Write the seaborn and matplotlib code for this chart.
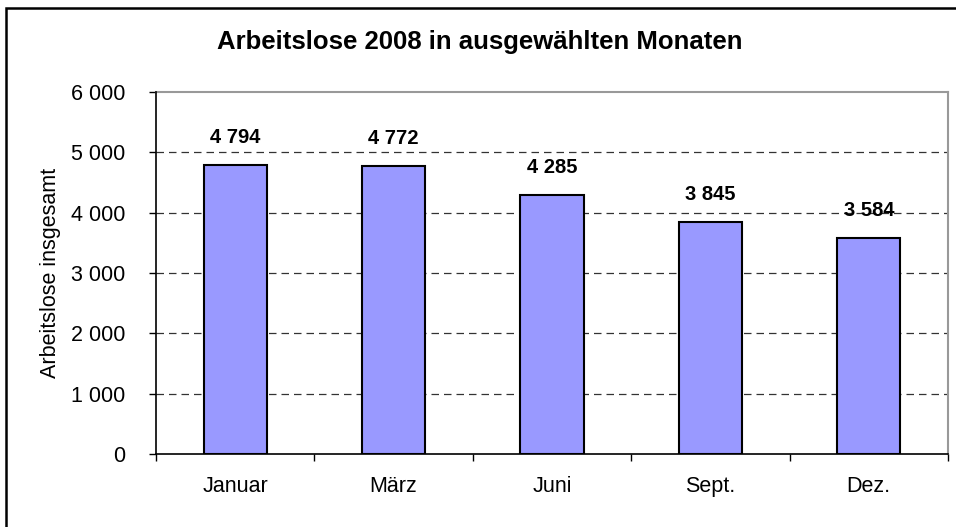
import matplotlib
matplotlib.use("Agg")
import matplotlib.pyplot as plt
import seaborn as sns
import pandas as pd
from matplotlib.patches import Rectangle
from matplotlib.ticker import FuncFormatter, FixedLocator

months = ["Januar", "März", "Juni", "Sept.", "Dez."]
values = [4794, 4772, 4285, 3845, 3584]
y_ticks = [0, 1000, 2000, 3000, 4000, 5000, 6000]
title = "Arbeitslose 2008 in ausgewählten Monaten"
ylabel = "Arbeitslose insgesamt"

sns.set_theme(style="white")
plt.rcParams["font.family"] = ["Liberation Sans", "DejaVu Sans"]
plt.rcParams["text.color"] = "black"
plt.rcParams["axes.labelcolor"] = "black"
plt.rcParams["xtick.color"] = "black"
plt.rcParams["ytick.color"] = "black"

def fmt(v):
    return f"{int(v):,}".replace(",", " ")

df = pd.DataFrame({"Monat": months, "Wert": values})

W, H = 956, 527
fig = plt.figure(figsize=(W / 100, H / 100), dpi=100)
fig.patch.set_facecolor("white")
ax = fig.add_axes([156 / W, 1 - 454 / H, (948 - 156) / W, (454 - 92) / H])

sns.barplot(data=df, x="Monat", y="Wert", color="#9999FF", saturation=1,
            width=0.4, edgecolor="black", linewidth=1.5, ax=ax, zorder=3)

ax.set_xlim(-0.5, len(months) - 0.5)
ax.set_ylim(0, 6000)
ax.set_yticks(y_ticks)
ax.yaxis.set_major_formatter(FuncFormatter(lambda v, p: fmt(v)))
ax.tick_params(axis="y", which="major", direction="out", length=5, width=1,
               color="black", labelcolor="black", labelsize=15.5, pad=17, left=True)
ax.tick_params(axis="x", which="major", length=0, labelsize=15.5,
               labelcolor="black", pad=16)
ax.xaxis.set_minor_locator(FixedLocator([i - 0.5 for i in range(len(months) + 1)]))
ax.tick_params(axis="x", which="minor", direction="out", length=5, width=1,
               color="black", bottom=True)

for yv in y_ticks[1:-1]:
    ax.axhline(yv, color="#333333", lw=0.9, ls=(0, (6, 4)), zorder=1)

ax.set_xlabel("")
ax.set_ylabel(ylabel, fontsize=15.5, labelpad=7, color="black")

for sp in ["left", "bottom"]:
    ax.spines[sp].set_color("black")
    ax.spines[sp].set_linewidth(1.2)
for sp in ["top", "right"]:
    ax.spines[sp].set_color("#999999")
    ax.spines[sp].set_linewidth(1.5)
ax.spines["left"].set_zorder(4)
ax.spines["bottom"].set_zorder(4)

for i, v in enumerate(values):
    ax.annotate(fmt(v), xy=(i, v), xytext=(0, 13), textcoords="offset points",
                ha="center", va="bottom", fontsize=14.5, fontweight="bold",
                color="black", zorder=5)

fig.text(480 / W, 1 - 42 / H, title, ha="center", va="center",
         fontsize=18.5, fontweight="bold", color="black")

fig.patches.append(Rectangle((6 / W, -0.1), 1.2, (1 - 8 / H) + 0.1,
                             transform=fig.transFigure, fill=False,
                             edgecolor="black", lw=1.8))

fig.savefig("out.png", dpi=100)
